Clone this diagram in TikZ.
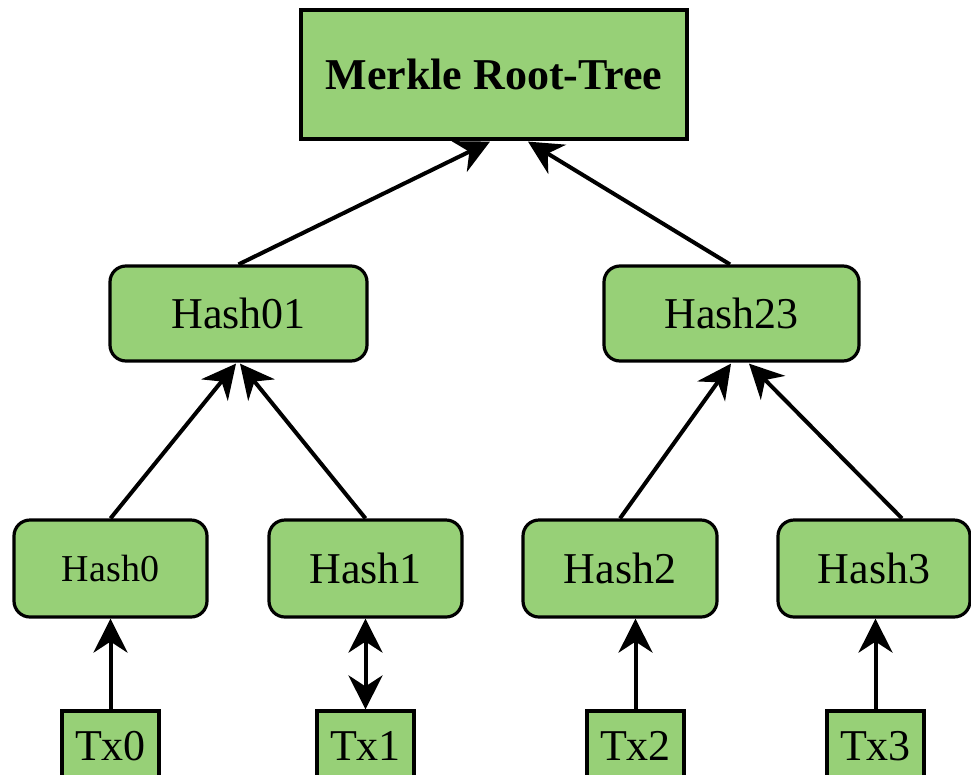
\documentclass[tikz,border=0pt]{standalone}
\usepackage{fontspec}
\setmainfont{Liberation Serif}
\usetikzlibrary{arrows.meta}
\definecolor{nodegreen}{HTML}{97D077}
\tikzset{
  treebox/.style={draw=black, line width=3.2pt, fill=nodegreen, inner sep=0pt,
    font=\fontsize{44}{52}\selectfont},
  roundbox/.style={treebox, rounded corners=16pt},
  bigtip/.tip={Stealth[length=34pt,width=34pt,inset=11pt]},
  hashedge/.style={draw=black, line width=4pt, -bigtip},
  hashedgetwo/.style={draw=black, line width=4pt, bigtip-bigtip}
}
\begin{document}
\begin{tikzpicture}[x=1pt,y=-1pt]
  \clip (0,0) rectangle (971,774);
  \useasboundingbox (0,0) rectangle (971,774);

  % root
  \node[treebox, minimum width=386pt, minimum height=129pt,
        font=\fontsize{44}{52}\selectfont\bfseries] (root) at (494,74.5) {Merkle Root-Tree};

  % intermediate hashes
  \node[roundbox, minimum width=257pt, minimum height=95pt] (h01) at (238.5,313.5) {Hash01};
  \node[roundbox, minimum width=255pt, minimum height=95pt] (h23) at (731.5,313.5) {Hash23};

  % leaf hashes
  \node[roundbox, minimum width=193pt, minimum height=97pt,
        font=\fontsize{38}{46}\selectfont] (h0) at (110.5,568.5) {Hash0};
  \node[roundbox, minimum width=193pt, minimum height=97pt] (h1) at (365.5,568.5) {Hash1};
  \node[roundbox, minimum width=194pt, minimum height=97pt] (h2) at (620,568.5) {Hash2};
  \node[roundbox, minimum width=192pt, minimum height=97pt] (h3) at (874,568.5) {Hash3};

  % transactions
  \node[treebox, minimum width=97pt, minimum height=70pt] (tx0) at (110.5,746) {Tx0};
  \node[treebox, minimum width=97pt, minimum height=70pt] (tx1) at (365.5,746) {Tx1};
  \node[treebox, minimum width=97pt, minimum height=70pt] (tx2) at (635.5,746) {Tx2};
  \node[treebox, minimum width=97pt, minimum height=70pt] (tx3) at (875.5,746) {Tx3};

  % connectors
  \draw[hashedge] (h01.north) -- ([xshift=-4pt,yshift=-1pt]root.south);
  \draw[hashedge] ([xshift=-1.5pt]h23.north) -- ([xshift=34pt,yshift=-1pt]root.south);

  \draw[hashedge] (h0.north) -- ([xshift=-2.5pt,yshift=-1pt]h01.south);
  \draw[hashedge] (h1.north) -- ([xshift=1.5pt,yshift=-1pt]h01.south);
  \draw[hashedge] (h2.north) -- ([xshift=-0.5pt,yshift=-1pt]h23.south);
  \draw[hashedge] ([xshift=28pt]h3.north) -- ([xshift=17.5pt,yshift=-1pt]h23.south);

  \draw[hashedge] (tx0.north) -- (tx0.north |- h0.south);
  \draw[hashedgetwo] (tx1.north) -- (tx1.north |- h1.south);
  \draw[hashedge] (tx2.north) -- (tx2.north |- h2.south);
  \draw[hashedge] (tx3.north) -- (tx3.north |- h3.south);
\end{tikzpicture}
\end{document}
